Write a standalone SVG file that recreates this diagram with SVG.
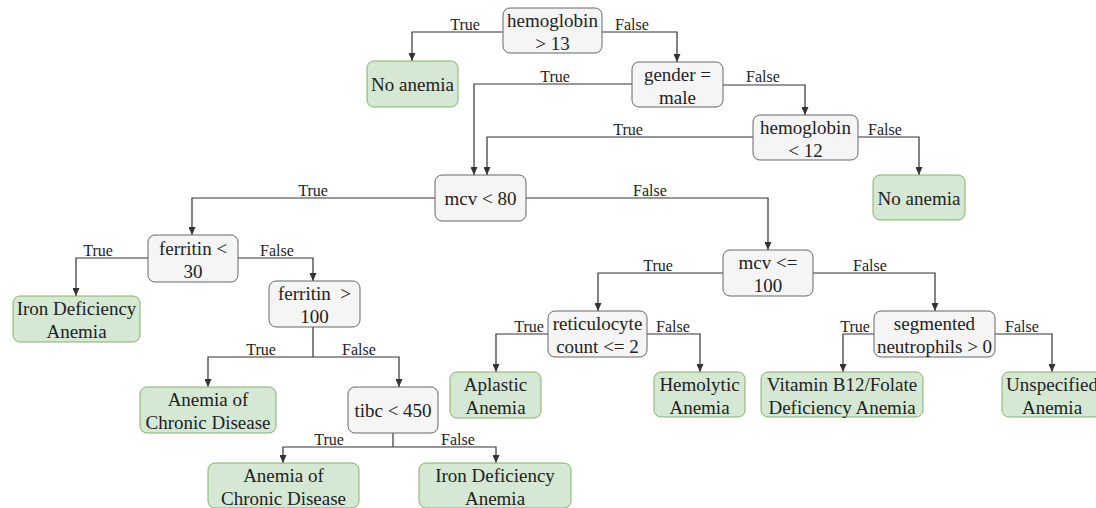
<svg xmlns="http://www.w3.org/2000/svg" width="1096" height="508" viewBox="0 0 1096 508">
<defs>
<marker id="arr" markerUnits="userSpaceOnUse" markerWidth="8" markerHeight="7" refX="8" refY="3.5" orient="auto">
<path d="M0,0 L8,3.5 L0,7 z" fill="#333"/>
</marker>
<style>
.dec rect{fill:#f5f5f5;stroke:#666;stroke-width:1}
.leaf rect{fill:#d5e8d4;stroke:#82b366;stroke-width:1}
.node text{font-family:"Liberation Serif",serif;font-size:19px;fill:#222;text-anchor:middle}
#edges path{fill:none;stroke:#333;stroke-width:1.2}
#edges path.a{marker-end:url(#arr)}
#edges text{font-family:"Liberation Serif",serif;font-size:16px;fill:#222;text-anchor:middle}
</style>
</defs>
<rect width="1096" height="508" fill="#fff"/>
<g id="edges">
<path class="a" d="M503,32 H412 V61"/>
<path class="a" d="M602,32 H677 V62"/>
<path class="a" d="M632,84 H474 V175"/>
<path class="a" d="M723,85 H805 V115"/>
<path class="a" d="M753,137 H487 V175"/>
<path class="a" d="M858,137 H919 V175"/>
<path class="a" d="M435,198 H192 V235"/>
<path class="a" d="M526,198 H768 V250"/>
<path class="a" d="M148,258 H76 V296"/>
<path class="a" d="M238,258 H313 V281"/>
<path d="M313,327 V357"/>
<path class="a" d="M313,357 H208 V387"/>
<path class="a" d="M313,357 H399 V387"/>
<path d="M393,433 V447"/>
<path class="a" d="M393,447 H283 V463"/>
<path class="a" d="M393,447 H496 V463"/>
<path class="a" d="M723,273 H598 V311"/>
<path class="a" d="M813,273 H935 V311"/>
<path class="a" d="M548,334 H496 V372"/>
<path class="a" d="M647,334 H700 V372"/>
<path class="a" d="M874,334 H843 V372"/>
<path class="a" d="M995,334 H1052 V372"/>
<text x="465" y="30">True</text><text x="632" y="30">False</text>
<text x="555" y="82">True</text><text x="763" y="82">False</text>
<text x="628" y="135">True</text><text x="885" y="135">False</text>
<text x="313" y="196">True</text><text x="650" y="196">False</text>
<text x="98" y="256">True</text><text x="277" y="256">False</text>
<text x="261" y="355">True</text><text x="359" y="355">False</text>
<text x="329" y="445">True</text><text x="458" y="445">False</text>
<text x="658" y="271">True</text><text x="870" y="271">False</text>
<text x="529" y="332">True</text><text x="673" y="332">False</text>
<text x="855" y="332">True</text><text x="1022" y="332">False</text>
</g>
<g id="n1" class="node dec"><rect x="503" y="8" width="99" height="45" rx="7"/><text x="552.5" y="27">hemoglobin</text><text x="552.5" y="50">&gt; 13</text></g>
<g id="n2" class="node leaf"><rect x="367" y="61" width="91" height="46" rx="7"/><text x="412.5" y="91">No anemia</text></g>
<g id="n3" class="node dec"><rect x="632" y="62" width="91" height="45" rx="7"/><text x="677.5" y="81">gender =</text><text x="677.5" y="104">male</text></g>
<g id="n4" class="node dec"><rect x="753" y="115" width="105" height="45" rx="7"/><text x="805.5" y="134">hemoglobin</text><text x="805.5" y="157">&lt; 12</text></g>
<g id="n5" class="node leaf"><rect x="873" y="175" width="92" height="45" rx="7"/><text x="919" y="205">No anemia</text></g>
<g id="n6" class="node dec"><rect x="435" y="175" width="91" height="46" rx="7"/><text x="480.5" y="205">mcv &lt; 80</text></g>
<g id="n7" class="node dec"><rect x="148" y="235" width="90" height="47" rx="7"/><text x="193" y="255">ferritin &lt;</text><text x="193" y="278">30</text></g>
<g id="n8" class="node leaf"><rect x="13" y="296" width="127" height="46" rx="7"/><text x="76.5" y="315">Iron Deficiency</text><text x="76.5" y="338">Anemia</text></g>
<g id="n9" class="node dec"><rect x="269" y="281" width="91" height="46" rx="7"/><text x="314.5" y="300" xml:space="preserve">ferritin  &gt;</text><text x="314.5" y="323">100</text></g>
<g id="n10" class="node leaf"><rect x="140" y="387" width="136" height="46" rx="7"/><text x="208" y="406">Anemia of</text><text x="208" y="429">Chronic Disease</text></g>
<g id="n11" class="node dec"><rect x="348" y="387" width="90" height="46" rx="7"/><text x="393" y="417">tibc &lt; 450</text></g>
<g id="n12" class="node leaf"><rect x="208" y="463" width="151" height="45" rx="7"/><text x="283.5" y="482">Anemia of</text><text x="283.5" y="505">Chronic Disease</text></g>
<g id="n13" class="node leaf"><rect x="419" y="463" width="152" height="45" rx="7"/><text x="495" y="482">Iron Deficiency</text><text x="495" y="505">Anemia</text></g>
<g id="n14" class="node dec"><rect x="723" y="250" width="90" height="46" rx="7"/><text x="768" y="269">mcv &lt;=</text><text x="768" y="292">100</text></g>
<g id="n15" class="node dec"><rect x="548" y="311" width="99" height="46" rx="7"/><text x="597.5" y="330">reticulocyte</text><text x="597.5" y="353">count &lt;= 2</text></g>
<g id="n16" class="node leaf"><rect x="450" y="372" width="91" height="46" rx="7"/><text x="495.5" y="391">Aplastic</text><text x="495.5" y="414">Anemia</text></g>
<g id="n17" class="node leaf"><rect x="654" y="372" width="91" height="45" rx="7"/><text x="699.5" y="391">Hemolytic</text><text x="699.5" y="414">Anemia</text></g>
<g id="n18" class="node dec"><rect x="874" y="311" width="121" height="46" rx="7"/><text x="934.5" y="330">segmented</text><text x="934.5" y="353">neutrophils &gt; 0</text></g>
<g id="n19" class="node leaf"><rect x="761" y="372" width="162" height="45" rx="7"/><text x="842" y="391">Vitamin B12/Folate</text><text x="842" y="414">Deficiency Anemia</text></g>
<g id="n20" class="node leaf"><rect x="1002" y="372" width="100" height="45" rx="7"/><text x="1052" y="391">Unspecified</text><text x="1052" y="414">Anemia</text></g>
</svg>
